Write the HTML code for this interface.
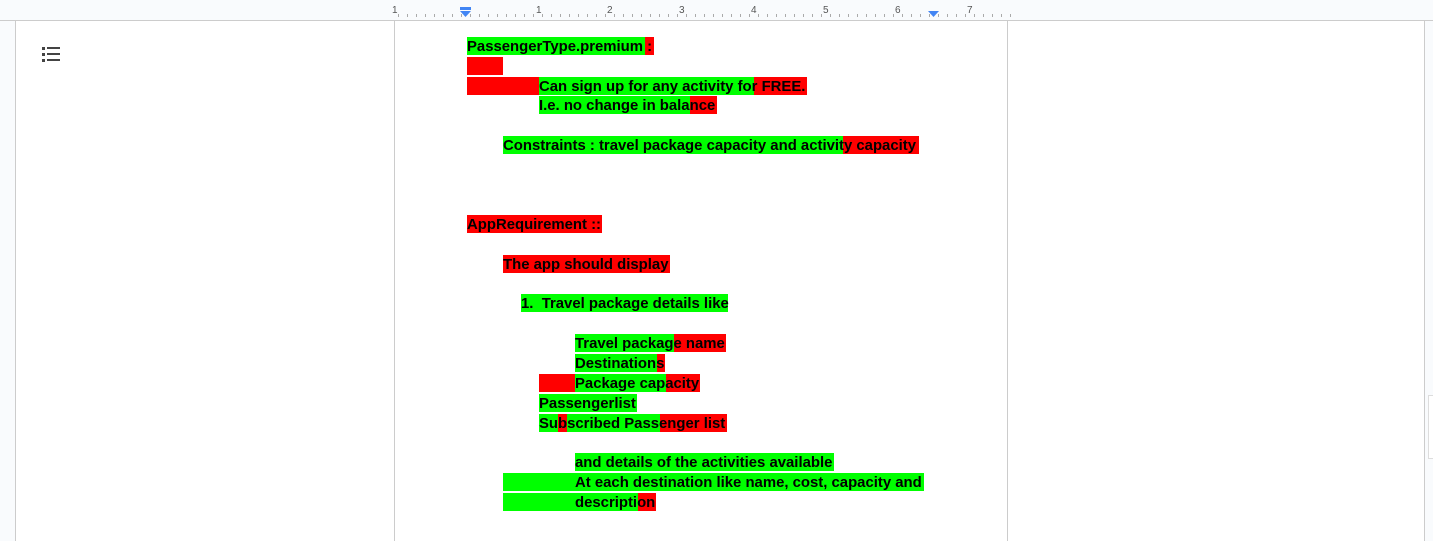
<!DOCTYPE html>
<html style="overflow:hidden;height:541px"><head><style>
body{margin:0;width:1433px;height:541px;background:#f9fbfd;position:relative;overflow:hidden;font-family:"Liberation Sans",Arial,sans-serif}
.a{position:absolute}
.b{position:absolute;height:18px}
.g{background:#00ff00}.r{background:#ff0000}
.t{position:absolute;font-weight:bold;font-size:14.9px;line-height:18px;margin-top:1px;color:#000;white-space:nowrap}
</style></head><body>
<div class="a" style="left:15px;top:20px;width:1408px;height:521px;background:#fff;border-left:1px solid #ccc;border-right:1px solid #ccc"></div>
<div class="a" style="left:394px;top:20px;width:612px;height:521px;border-left:1px solid #ccc;border-right:1px solid #ccc"></div>
<div class="a" style="left:42px;top:47px;width:3px;height:3px;background:#444"></div><div class="a" style="left:47px;top:47px;width:13px;height:2px;background:#444"></div>
<div class="a" style="left:42px;top:53px;width:3px;height:3px;background:#444"></div><div class="a" style="left:47px;top:53px;width:13px;height:2px;background:#444"></div>
<div class="a" style="left:42px;top:59px;width:3px;height:3px;background:#444"></div><div class="a" style="left:47px;top:59px;width:13px;height:2px;background:#444"></div>
<svg class="a" style="left:390px;top:0" width="625" height="20">
<text x="2" y="13" font-size="10" fill="#555" font-family="Liberation Sans">1</text>
<text x="146" y="13" font-size="10" fill="#555" font-family="Liberation Sans">1</text>
<text x="217" y="13" font-size="10" fill="#555" font-family="Liberation Sans">2</text>
<text x="289" y="13" font-size="10" fill="#555" font-family="Liberation Sans">3</text>
<text x="361" y="13" font-size="10" fill="#555" font-family="Liberation Sans">4</text>
<text x="433" y="13" font-size="10" fill="#555" font-family="Liberation Sans">5</text>
<text x="505" y="13" font-size="10" fill="#555" font-family="Liberation Sans">6</text>
<text x="577" y="13" font-size="10" fill="#555" font-family="Liberation Sans">7</text>
<path d="M70 7h11v3h-11z" fill="#4285f4"/><path d="M70 11h11l-5.5 6z" fill="#4285f4"/>
<path d="M538 11h11l-5.5 6z" fill="#4285f4"/>
</svg>
<div class="a" style="left:390px;top:0;width:625px;height:20px;background:repeating-linear-gradient(90deg,transparent 0,transparent 8px,#aaa 8px,#aaa 9px);clip-path:inset(14px 0 3px 0)"></div>
<div class="a" style="left:0;top:20px;width:1433px;height:1px;background:#ccc"></div>

<div class="b r" style="left:467px;top:37px;width:187px"></div><div class="b g" style="left:467px;top:37px;width:178px"></div><div class="t" style="left:467px;top:37px">PassengerType.premium :</div>
<div class="b r" style="left:467px;top:57px;width:36px"></div>
<div class="b r" style="left:467px;top:77px;width:72px"></div><div class="b g" style="left:539px;top:77px;width:215px"></div><div class="b r" style="left:754px;top:77px;width:53px"></div><div class="t" style="left:539px;top:77px">Can sign up for any activity for FREE.</div>
<div class="b g" style="left:539px;top:96px;width:151px"></div><div class="b r" style="left:690px;top:96px;width:27px"></div><div class="t" style="left:539px;top:96px">I.e. no change in balance</div>
<div class="b g" style="left:503px;top:136px;width:340px"></div><div class="b r" style="left:843px;top:136px;width:76px"></div><div class="t" style="left:503px;top:136px">Constraints : travel package capacity and activity capacity</div>
<div class="b r" style="left:467px;top:215px;width:135px"></div><div class="t" style="left:467px;top:215px">AppRequirement ::</div>
<div class="b r" style="left:503px;top:255px;width:167px"></div><div class="t" style="left:503px;top:255px">The app should display</div>
<div class="b g" style="left:521px;top:294px;width:207px"></div><div class="t" style="left:521px;top:294px">1.&nbsp; Travel package details like</div>
<div class="b g" style="left:575px;top:334px;width:99px"></div><div class="b r" style="left:674px;top:334px;width:52px"></div><div class="t" style="left:575px;top:334px">Travel package name</div>
<div class="b g" style="left:575px;top:354px;width:82px"></div><div class="b r" style="left:657px;top:354px;width:8px"></div><div class="t" style="left:575px;top:354px">Destinations</div>
<div class="b r" style="left:539px;top:374px;width:36px"></div><div class="b g" style="left:575px;top:374px;width:91px"></div><div class="b r" style="left:666px;top:374px;width:34px"></div><div class="t" style="left:575px;top:374px">Package capacity</div>
<div class="b g" style="left:539px;top:394px;width:98px"></div><div class="t" style="left:539px;top:394px">Passengerlist</div>
<div class="b g" style="left:539px;top:414px;width:19px"></div><div class="b r" style="left:558px;top:414px;width:9px"></div><div class="b g" style="left:567px;top:414px;width:93px"></div><div class="b r" style="left:660px;top:414px;width:67px"></div><div class="t" style="left:539px;top:414px">Subscribed Passenger list</div>
<div class="b g" style="left:575px;top:453px;width:259px"></div><div class="t" style="left:575px;top:453px">and details of the activities available</div>
<div class="b g" style="left:503px;top:473px;width:421px"></div><div class="t" style="left:575px;top:473px">At each destination like name, cost, capacity and</div>
<div class="b g" style="left:503px;top:493px;width:135px"></div><div class="b r" style="left:638px;top:493px;width:18px"></div><div class="t" style="left:575px;top:493px">description</div>
<div class="a" style="left:1428px;top:395px;width:5px;height:62px;border:1px solid #ddd;border-right:none;background:#fff"></div>
</body></html>
